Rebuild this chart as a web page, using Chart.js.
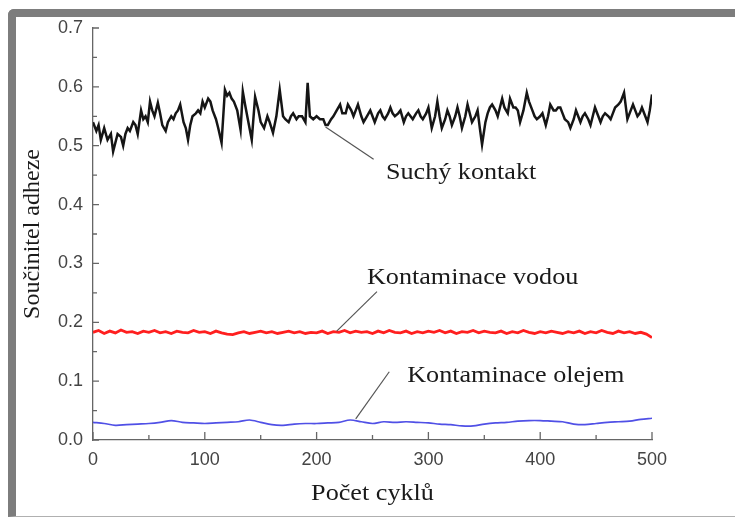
<!DOCTYPE html>
<html>
<head>
<meta charset="utf-8">
<script src="https://cdn.jsdelivr.net/npm/chart.js@4"></script>
<style>
  html, body { margin: 0; padding: 0; background: #fff; }
  #wrap { position: relative; width: 735px; height: 518px; overflow: hidden; }
  #frame { position: absolute; left: 8px; top: 9px; right: -20px; bottom: 1px;
           border-left: 8px solid #7d7d7d; border-top: 8px solid #7d7d7d; border-bottom: 1px solid #b0b0b0;
           border-top-left-radius: 6px; }
  #c { position: absolute; left: 0; top: 0; }
</style>
</head>
<body>
<div id="wrap">
  <div id="frame"></div>
  <canvas id="c" width="735" height="518"></canvas>
</div>
<script>
// ── Data ────────────────────────────────────────────────────────
const dryX = [0,3,5,7,10,13,16,18,20,22,25,27,29,31,33,36,38,40,43,45,47,49,51,53,55,58,60,62,65,67,70,72,74,76,78,81,83,85,87,89,92,94,96,98,
  100,103,105,107,110,112,115,118,120,122,124,126,129,132,134,136,139,142,145,148,150,153,156,158,161,164,167,170,172,175,177,179,182,184,187,190,192,194,197,
  200,203,206,208,210,213,215,218,221,223,226,228,231,233,235,237,240,242,245,248,250,252,255,257,259,261,264,266,268,270,273,275,278,280,282,284,286,289,291,293,295,298,
  300,303,306,308,310,312,315,317,319,321,324,326,328,330,333,335,337,339,342,344,346,348,351,353,355,357,360,362,364,366,368,371,373,376,378,380,382,385,388,390,393,395,397,
  400,402,405,407,409,412,414,416,418,420,422,425,427,430,432,434,436,438,440,443,445,447,449,452,454,456,458,461,463,465,467,470,472,475,477,478,481,483,485,487,489,491,494,496,498,500];
const dryY = [0.54,0.525,0.535,0.51,0.53,0.51,0.52,0.49,0.505,0.52,0.515,0.50,0.52,0.53,0.525,0.54,0.535,0.52,0.56,0.545,0.55,0.54,0.575,0.56,0.55,0.573,0.555,0.535,0.525,0.54,0.55,0.545,0.555,0.56,0.57,0.54,0.53,0.51,0.535,0.55,0.555,0.56,0.555,0.575,
  0.565,0.58,0.575,0.56,0.545,0.53,0.505,0.595,0.585,0.59,0.58,0.575,0.56,0.527,0.592,0.57,0.54,0.51,0.583,0.56,0.54,0.53,0.55,0.54,0.522,0.55,0.595,0.55,0.545,0.54,0.55,0.555,0.545,0.55,0.55,0.54,0.607,0.55,0.545,
  0.55,0.545,0.545,0.535,0.535,0.545,0.55,0.56,0.57,0.555,0.555,0.57,0.56,0.55,0.56,0.57,0.55,0.54,0.55,0.56,0.55,0.54,0.555,0.56,0.55,0.545,0.555,0.565,0.555,0.55,0.555,0.56,0.54,0.55,0.555,0.55,0.545,0.555,0.56,0.55,0.545,0.555,
  0.565,0.53,0.55,0.575,0.55,0.53,0.545,0.56,0.55,0.535,0.55,0.565,0.55,0.53,0.55,0.57,0.555,0.54,0.55,0.56,0.53,0.502,0.54,0.555,0.565,0.57,0.56,0.55,0.565,0.58,0.565,0.555,0.58,0.565,0.565,0.56,0.54,0.56,0.59,0.575,0.56,0.55,0.545,
  0.55,0.555,0.535,0.55,0.57,0.56,0.56,0.565,0.565,0.555,0.545,0.54,0.53,0.545,0.56,0.55,0.54,0.55,0.555,0.545,0.535,0.55,0.565,0.55,0.54,0.55,0.555,0.55,0.545,0.555,0.565,0.57,0.575,0.59,0.56,0.545,0.56,0.57,0.56,0.55,0.555,0.565,0.55,0.54,0.56,0.587];

const waterStep = 5;
const waterY = [
  0.183,0.186,0.181,0.185,0.182,0.187,0.183,0.184,0.181,0.185,
  0.183,0.186,0.182,0.184,0.181,0.185,0.183,0.182,0.186,0.183,
  0.184,0.181,0.185,0.182,0.180,0.179,0.182,0.184,0.181,0.183,
  0.185,0.182,0.184,0.181,0.183,0.185,0.182,0.184,0.181,0.183,
  0.182,0.185,0.181,0.184,0.183,0.186,0.182,0.185,0.183,0.184,
  0.181,0.185,0.182,0.186,0.183,0.182,0.185,0.181,0.184,0.182,
  0.185,0.183,0.186,0.182,0.185,0.181,0.184,0.183,0.186,0.182,
  0.185,0.183,0.182,0.185,0.181,0.184,0.182,0.186,0.183,0.181,
  0.184,0.182,0.185,0.183,0.181,0.184,0.182,0.185,0.181,0.184,
  0.182,0.186,0.183,0.181,0.185,0.182,0.184,0.181,0.183,0.180,
  0.174];

const oilStep = 10;
const oilY = [
  0.030,0.028,0.025,0.026,0.027,0.028,0.030,0.033,0.030,0.029,
  0.028,0.029,0.030,0.031,0.034,0.030,0.026,0.025,0.027,0.028,
  0.028,0.029,0.030,0.034,0.031,0.028,0.031,0.030,0.031,0.030,
  0.029,0.027,0.026,0.024,0.024,0.027,0.029,0.030,0.032,0.033,
  0.033,0.032,0.031,0.027,0.026,0.028,0.030,0.031,0.032,0.035,0.037];

const xTicks = [0, 100, 200, 300, 400, 500];
const yTicks = [0, 0.1, 0.2, 0.3, 0.4, 0.5, 0.6, 0.7];

// annotations: label, text anchor (x, y), leader line from -> to
const notes = [
  { text: 'Suchý kontakt',      tx: 262, ty: 0.454, x0: 208, y0: 0.532, x1: 251, y1: 0.477 },
  { text: 'Kontaminace vodou',  tx: 245, ty: 0.276, x0: 218, y0: 0.185, x1: 254, y1: 0.252 },
  { text: 'Kontaminace olejem', tx: 281, ty: 0.110, x0: 235, y0: 0.036, x1: 265, y1: 0.116 }
];

// ── Chart ───────────────────────────────────────────────────────
const pts = (xs, ys) => ys.map((v, i) => ({ x: xs[i], y: v }));
const stepPts = (step, ys) => ys.map((v, i) => ({ x: i * step, y: v }));
const SERIF = '24px "Liberation Serif", "Times New Roman", serif';
const STRETCH = 1.09; // text in the source is a little wide

function wideText(ctx, s, x, y) {
  ctx.save();
  ctx.translate(x, y);
  ctx.scale(STRETCH, 1);
  ctx.fillText(s, 0, 0);
  ctx.restore();
}

const decor = {
  id: 'decor',
  afterDraw(chart) {
    const { ctx, scales: { x, y }, chartArea: a } = chart;
    ctx.save();
    // inward ticks
    ctx.strokeStyle = '#666'; ctx.lineWidth = 1.3;
    ctx.beginPath();
    for (let i = 0; i < xTicks.length; i++) {
      const px = x.getPixelForValue(xTicks[i]);
      ctx.moveTo(px, a.bottom); ctx.lineTo(px, a.bottom - 8);
      if (i < xTicks.length - 1) {
        const pm = x.getPixelForValue((xTicks[i] + xTicks[i + 1]) / 2);
        ctx.moveTo(pm, a.bottom); ctx.lineTo(pm, a.bottom - 5);
      }
    }
    for (let i = 0; i < yTicks.length; i++) {
      const py = y.getPixelForValue(yTicks[i]);
      ctx.moveTo(a.left, py); ctx.lineTo(a.left + 6, py);
      if (i < yTicks.length - 1) {
        const pm = y.getPixelForValue((yTicks[i] + yTicks[i + 1]) / 2);
        ctx.moveTo(a.left, pm); ctx.lineTo(a.left + 4, pm);
      }
    }
    ctx.stroke();

    // leader lines + labels
    ctx.strokeStyle = '#555'; ctx.lineWidth = 1.2;
    ctx.fillStyle = '#1a1a1a';
    ctx.font = SERIF;
    ctx.textBaseline = 'middle'; ctx.textAlign = 'left';
    for (const n of notes) {
      ctx.beginPath();
      ctx.moveTo(x.getPixelForValue(n.x0), y.getPixelForValue(n.y0));
      ctx.lineTo(x.getPixelForValue(n.x1), y.getPixelForValue(n.y1));
      ctx.stroke();
      wideText(ctx, n.text, x.getPixelForValue(n.tx), y.getPixelForValue(n.ty));
    }

    // axis titles
    ctx.textAlign = 'center';
    wideText(ctx, 'Počet cyklů', (a.left + a.right) / 2, 494);
    ctx.translate(33, (a.top + a.bottom) / 2);
    ctx.rotate(-Math.PI / 2);
    ctx.fillText('Součinitel adheze', 0, 0);
    ctx.restore();
  }
};

const tickFont = { family: '"Liberation Sans", Arial, sans-serif', size: 18 };

new Chart(document.getElementById('c'), {
  type: 'line',
  data: {
    datasets: [
      { label: 'Suchý kontakt', data: pts(dryX, dryY), borderColor: '#151515', borderWidth: 2.5, pointRadius: 0, tension: 0 },
      { label: 'Kontaminace vodou', data: stepPts(waterStep, waterY), borderColor: '#ff1f1f', borderWidth: 2.8, pointRadius: 0, tension: 0 },
      { label: 'Kontaminace olejem', data: stepPts(oilStep, oilY), borderColor: '#5050e6', borderWidth: 1.7, pointRadius: 0, tension: 0.3 }
    ]
  },
  options: {
    responsive: false, animation: false, devicePixelRatio: 1,
    layout: { padding: { left: 0, top: 28, right: 83, bottom: 0 } },
    plugins: { legend: { display: false }, tooltip: { enabled: false } },
    scales: {
      x: {
        type: 'linear', min: 0, max: 500,
        afterFit: s => { s.height = 78; },
        afterBuildTicks: s => { s.ticks = xTicks.map(v => ({ value: v })); },
        ticks: { color: '#444', font: tickFont, padding: 9, maxRotation: 0 },
        grid: { drawOnChartArea: false, drawTicks: false },
        border: { color: '#666', width: 1.3 }
      },
      y: {
        min: 0, max: 0.7,
        afterFit: s => { s.width = 93; },
        afterBuildTicks: s => { s.ticks = yTicks.map(v => ({ value: v })); },
        ticks: { color: '#444', font: tickFont, padding: 10, callback: v => v.toFixed(1) },
        grid: { drawOnChartArea: false, drawTicks: false },
        border: { color: '#666', width: 1.3 }
      }
    }
  },
  plugins: [decor]
});
</script>
</body>
</html>
